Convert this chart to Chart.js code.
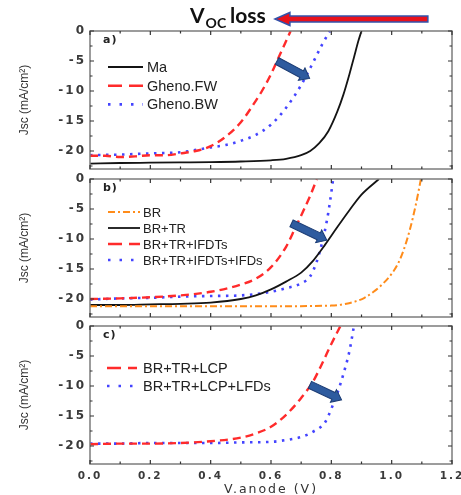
<!DOCTYPE html>
<html>
<head>
<meta charset="utf-8">
<script src="https://cdn.jsdelivr.net/npm/chart.js@4.4.1/dist/chart.umd.min.js"></script>
<style>
  html, body { margin: 0; padding: 0; background: #fff; }
  #wrap { position: relative; width: 461px; height: 495px; overflow: hidden; }
  canvas { position: absolute; left: 0; }
</style>
</head>
<body>
<div id="wrap">
  <canvas id="chartA" style="top:0px" width="461" height="172"></canvas>
  <canvas id="chartB" style="top:165px" width="461" height="157"></canvas>
  <canvas id="chartC" style="top:312px" width="461" height="186"></canvas>
</div>
<script>
// axis ticks
const xTickVals = [0, 0.2, 0.4, 0.6, 0.8, 1.0, 1.2];
const yTickVals = [0, -5, -10, -15, -20];

// panel a)
const maV = [0, 0.1, 0.2, 0.3, 0.4, 0.5, 0.6, 0.65, 0.7, 0.73, 0.76, 0.79, 0.82, 0.84, 0.86, 0.875, 0.89, 0.9];
const maJ = [-22.1, -22.0, -21.95, -21.9, -21.85, -21.75, -21.55, -21.3, -20.7, -20.0, -18.7, -16.7, -13.4, -10.6, -7.2, -4.4, -1.6, 0];
const fwV = [0, 0.05, 0.1, 0.15, 0.2, 0.25, 0.3, 0.35, 0.4, 0.45, 0.5, 0.55, 0.57, 0.6, 0.62, 0.64, 0.665];
const fwJ = [-20.8, -20.8, -21.0, -20.9, -20.7, -20.7, -20.4, -20.0, -19.2, -17.6, -15.2, -11.6, -10.0, -7.2, -5.0, -2.8, 0];
const bwV = [0, 0.1, 0.2, 0.3, 0.4, 0.45, 0.5, 0.55, 0.6, 0.65, 0.7, 0.74, 0.77, 0.795];
const bwJ = [-20.7, -20.6, -20.4, -20.2, -19.4, -19.0, -18.3, -17.3, -15.6, -12.8, -9.0, -5.2, -2.2, 0];

// panel b)
const brV = [0, 0.2, 0.4, 0.6, 0.8, 0.85, 0.88, 0.91, 0.94, 0.97, 1.0, 1.02, 1.04, 1.06, 1.08, 1.097];
const brJ = [-21.2, -21.2, -21.2, -21.2, -21.1, -20.8, -20.4, -19.8, -18.8, -17.5, -15.8, -14.2, -11.8, -8.5, -4.3, 0];
const trV = [0, 0.1, 0.2, 0.3, 0.4, 0.5, 0.55, 0.6, 0.65, 0.7, 0.74, 0.78, 0.82, 0.86, 0.9, 0.958];
const trJ = [-21.0, -21.0, -20.9, -20.8, -20.6, -20.0, -19.4, -18.4, -17.1, -15.6, -13.6, -10.9, -8.0, -5.2, -2.6, 0];
const ifdtV = [0, 0.1, 0.2, 0.3, 0.4, 0.5, 0.55, 0.6, 0.65, 0.68, 0.71, 0.73, 0.752];
const ifdtJ = [-20.0, -19.9, -19.7, -19.4, -18.8, -17.6, -16.6, -14.7, -11.3, -8.2, -5.0, -2.8, 0];
const ifdV = [0, 0.1, 0.2, 0.3, 0.4, 0.5, 0.6, 0.65, 0.7, 0.73, 0.75, 0.77, 0.785, 0.795, 0.806];
const ifdJ = [-20.1, -19.9, -19.8, -19.6, -19.5, -19.4, -18.8, -18.2, -17.4, -16.2, -14.0, -10.5, -7.0, -4.0, 0];

// panel c)
const lcpV = [0, 0.1, 0.2, 0.3, 0.4, 0.5, 0.55, 0.6, 0.65, 0.7, 0.74, 0.77, 0.8, 0.83];
const lcpJ = [-19.7, -19.6, -19.6, -19.5, -19.2, -18.6, -17.9, -16.8, -14.8, -12.0, -9.2, -6.2, -3.0, 0];
const lfdV = [0, 0.1, 0.2, 0.3, 0.4, 0.5, 0.6, 0.65, 0.7, 0.74, 0.78, 0.8, 0.82, 0.84, 0.86, 0.875];
const lfdJ = [-19.6, -19.6, -19.5, -19.5, -19.5, -19.4, -19.3, -19.0, -18.5, -17.6, -16.0, -13.8, -11.2, -8.0, -4.2, 0];

// annotation arrows [x1, y1, x2, y2] in data units
const arrowA = [0.62, -5.0, 0.728, -7.9];
const arrowB = [0.668, -7.4, 0.785, -10.2];
const arrowC = [0.729, -9.8, 0.834, -12.3];
const vocArrow = [1.12, 0.613]; // tail, tip (V) above panel a

const STYLE = {
  black:  { borderColor: '#141414', borderWidth: 1.8, borderDash: [], legendDash: [] },
  red:    { borderColor: '#ff2b2b', borderWidth: 2.4, borderDash: [8, 5], legendDash: [14, 7] },
  blue:   { borderColor: '#4444ff', borderWidth: 2.6, borderDash: [2.5, 5.5], legendDash: [2.5, 9] },
  orange: { borderColor: '#ff8c1a', borderWidth: 2, borderDash: [7, 3, 2, 3], legendDash: [7, 3, 2, 3] }
};

function pts(v, j) {
  return v.map((x, i) => ({ x: x, y: j[i] }));
}

function drawArrow(ctx, x1, y1, x2, y2, shaft, headW, headL, fill, stroke, lw) {
  const ang = Math.atan2(y2 - y1, x2 - x1);
  const len = Math.hypot(x2 - x1, y2 - y1);
  ctx.save();
  ctx.translate(x1, y1);
  ctx.rotate(ang);
  ctx.beginPath();
  ctx.moveTo(0, -shaft / 2);
  ctx.lineTo(len - headL, -shaft / 2);
  ctx.lineTo(len - headL, -headW / 2);
  ctx.lineTo(len, 0);
  ctx.lineTo(len - headL, headW / 2);
  ctx.lineTo(len - headL, shaft / 2);
  ctx.lineTo(0, shaft / 2);
  ctx.closePath();
  ctx.fillStyle = fill;
  ctx.fill();
  ctx.strokeStyle = stroke;
  ctx.lineWidth = lw;
  ctx.setLineDash([]);
  ctx.stroke();
  ctx.restore();
}

// frame, inward ticks, legend, tag, arrow
const panelPlugin = {
  id: 'panel',
  afterDraw(chart, args, o) {
    const ctx = chart.ctx;
    const a = chart.chartArea;
    const x = chart.scales.x, y = chart.scales.y;
    ctx.save();
    ctx.letterSpacing = '0px';
    ctx.setLineDash([]);
    ctx.strokeStyle = '#7c7c7c';
    ctx.lineWidth = 1.5;
    ctx.strokeRect(a.left, a.top, a.right - a.left, a.bottom - a.top);

    ctx.strokeStyle = '#333';
    ctx.lineWidth = 1.2;
    ctx.beginPath();
    xTickVals.forEach(v => {
      [[v, 4], [v + 0.1, 2.5]].forEach(([t, len]) => {
        if (t > 1.2001) return;
        const px = x.getPixelForValue(t);
        ctx.moveTo(px, a.bottom); ctx.lineTo(px, a.bottom - len);
        ctx.moveTo(px, a.top); ctx.lineTo(px, a.top + len);
      });
    });
    yTickVals.forEach(v => {
      [[v, 4], [v - 2.5, 2.5]].forEach(([t, len]) => {
        if (t < -23) return;
        const py = y.getPixelForValue(t);
        ctx.moveTo(a.left, py); ctx.lineTo(a.left + len, py);
        ctx.moveTo(a.right, py); ctx.lineTo(a.right - len, py);
      });
    });
    ctx.stroke();

    // legend
    const lg = o.legend;
    chart.data.datasets.forEach((ds, i) => {
      const yy = a.top + lg.top + i * lg.gap;
      ctx.setLineDash(ds.legendDash);
      ctx.strokeStyle = ds.borderColor;
      ctx.lineWidth = ds.borderWidth;
      ctx.beginPath();
      ctx.moveTo(lg.x0, yy);
      ctx.lineTo(lg.x1, yy);
      ctx.stroke();
      ctx.setLineDash([]);
      ctx.fillStyle = '#222';
      ctx.font = lg.size + 'px "Liberation Sans", Arial, sans-serif';
      ctx.textBaseline = 'middle';
      ctx.textAlign = 'left';
      ctx.fillText(ds.label, lg.tx, yy + 1);
    });

    // panel tag
    ctx.fillStyle = '#222';
    ctx.font = 'bold 11px "DejaVu Sans", sans-serif';
    ctx.letterSpacing = '1px';
    ctx.textBaseline = 'middle';
    ctx.fillText(o.tag, 103, a.top + 9);
    ctx.letterSpacing = '0px';

    // blue arrow
    const ar = o.arrow;
    drawArrow(ctx, x.getPixelForValue(ar[0]), y.getPixelForValue(ar[1]),
      x.getPixelForValue(ar[2]), y.getPixelForValue(ar[3]), 7.5, 14, 9, '#2e5b9f', '#1c3c74', 1);

    if (o.title) {
      // V_OC loss title with red arrow
      ctx.fillStyle = '#111';
      ctx.textBaseline = 'alphabetic';
      ctx.font = 'bold 21px Lato, sans-serif';
      ctx.fillText('V', 190, 23);
      const w = ctx.measureText('V').width;
      ctx.font = 'bold 14px Lato, sans-serif';
      ctx.fillText('OC', 190 + w + 1, 28);
      ctx.font = 'bold 21px Lato, sans-serif';
      ctx.fillText('loss', 230, 23);
      drawArrow(ctx, x.getPixelForValue(vocArrow[0]), 19, x.getPixelForValue(vocArrow[1]), 19,
        6, 13, 15, '#e8121c', '#3352aa', 1.5);
    }
    ctx.restore();
  }
};

// per-scale letter spacing for tick labels and titles
function spaced(s, labelSpacing, titleSpacing) {
  if (s._spaced) return;
  const wrap = (name, spacing) => {
    const orig = s[name].bind(s);
    s[name] = function () {
      const c = this.ctx;
      c.save();
      c.letterSpacing = spacing;
      orig.apply(null, arguments);
      c.restore();
    };
  };
  wrap('drawLabels', labelSpacing);
  wrap('drawTitle', titleSpacing);
  s._spaced = true;
}

function makePanel(id, series, opts) {
  const datasets = series.map(s => Object.assign({
    label: s.label,
    data: pts(s.v, s.j),
    showLine: true,
    pointRadius: 0,
    fill: false,
    cubicInterpolationMode: 'monotone'
  }, STYLE[s.style]));

  const canvas = document.getElementById(id);
  return new Chart(canvas.getContext('2d'), {
    type: 'scatter',
    data: { datasets: datasets },
    options: {
      responsive: false,
      animation: false,
      events: [],
      layout: { padding: { top: opts.padTop, right: 9, left: 0, bottom: 0 } },
      scales: {
        x: {
          type: 'linear',
          min: 0, max: 1.2,
          afterBuildTicks: s => { s.ticks = xTickVals.map(v => ({ value: v })); },
          afterFit: s => {
            s.height = opts.xHeight;
            s.paddingLeft = 0; s.paddingRight = 0;
            spaced(s, '2px', '2px');
          },
          grid: { display: false, drawTicks: false },
          border: { display: false },
          ticks: {
            display: opts.showX,
            padding: 6,
            color: '#3a3a3a',
            font: { family: '"DejaVu Sans", sans-serif', size: 10.5, weight: 'bold' },
            callback: v => v.toFixed(1)
          },
          title: {
            display: opts.showX,
            text: 'V.anode (V)',
            color: '#333',
            padding: { top: 0, bottom: 1 },
            font: { family: '"DejaVu Sans", sans-serif', size: 12.5 }
          }
        },
        y: {
          type: 'linear',
          min: -23, max: 0,
          afterBuildTicks: s => { s.ticks = yTickVals.map(v => ({ value: v })); },
          afterFit: s => {
            s.width = 90;
            s.paddingTop = 0; s.paddingBottom = 0;
            spaced(s, '2px', '0px');
          },
          grid: { display: false, drawTicks: false },
          border: { display: false },
          ticks: {
            padding: 4,
            color: '#3a3a3a',
            font: { family: '"DejaVu Sans", sans-serif', size: 12, weight: 'bold' },
            callback: v => String(v)
          },
          title: {
            display: true,
            text: 'Jsc (mA/cm²)',
            color: '#333',
            padding: { top: 17, bottom: 0 },
            font: { family: '"Liberation Sans", Arial, sans-serif', size: 12 }
          }
        }
      },
      plugins: {
        legend: { display: false },
        tooltip: { enabled: false },
        panel: {
          tag: opts.tag,
          legend: opts.legend,
          arrow: opts.arrow,
          title: opts.title || false
        }
      }
    },
    plugins: [panelPlugin]
  });
}

makePanel('chartA', [
  { label: 'Ma', v: maV, j: maJ, style: 'black' },
  { label: 'Gheno.FW', v: fwV, j: fwJ, style: 'red' },
  { label: 'Gheno.BW', v: bwV, j: bwJ, style: 'blue' }
], {
  padTop: 31, xHeight: 3, showX: false, tag: 'a)', arrow: arrowA, title: true,
  legend: { top: 36, gap: 18.7, x0: 108, x1: 143, tx: 147, size: 14.5 }
});

makePanel('chartB', [
  { label: 'BR', v: brV, j: brJ, style: 'orange' },
  { label: 'BR+TR', v: trV, j: trJ, style: 'black' },
  { label: 'BR+TR+IFDTs', v: ifdtV, j: ifdtJ, style: 'red' },
  { label: 'BR+TR+IFDTs+IFDs', v: ifdV, j: ifdJ, style: 'blue' }
], {
  padTop: 14, xHeight: 5, showX: false, tag: 'b)', arrow: arrowB,
  legend: { top: 33, gap: 16, x0: 108, x1: 140, tx: 143, size: 13 }
});

makePanel('chartC', [
  { label: 'BR+TR+LCP', v: lcpV, j: lcpJ, style: 'red' },
  { label: 'BR+TR+LCP+LFDs', v: lfdV, j: lfdJ, style: 'blue' }
], {
  padTop: 14, xHeight: 34, showX: true, tag: 'c)', arrow: arrowC,
  legend: { top: 42, gap: 18, x0: 107, x1: 137, tx: 143, size: 14.5 }
});
</script>
</body>
</html>
